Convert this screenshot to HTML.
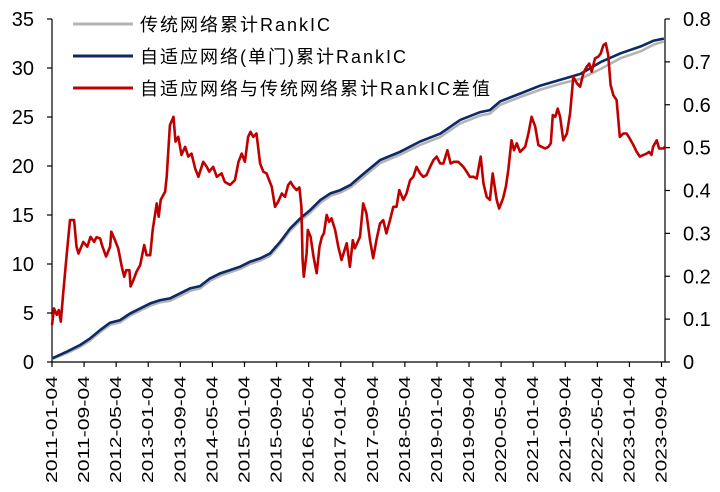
<!DOCTYPE html>
<html><head><meta charset="utf-8"><style>
body{margin:0;background:#fff}
svg{display:block;font-family:"Liberation Sans","Noto Sans CJK SC",sans-serif}
</style></head><body>
<svg id="chart" width="720" height="492" viewBox="0 0 720 492"></svg>
<script>
const tickLabels=["2011-01-04","2011-09-04","2012-05-04","2013-01-04","2013-09-04","2014-05-04","2015-01-04","2015-09-04","2016-05-04","2017-01-04","2017-09-04","2018-05-04","2019-01-04","2019-09-04","2020-05-04","2021-01-04","2021-09-04","2022-05-04","2023-01-04","2023-09-04"];
const leftTicks=[0,5,10,15,20,25,30,35];
const rightTicks=[0,0.1,0.2,0.3,0.4,0.5,0.6,0.7,0.8];
const cumMonths=[0,3.7,7,9.5,12,14.5,17,19.5,22,24.5,27,29.4,31.9,34.4,36.9,39.4,41.9,44.4,46.9,49.4,51.9,54.4,56.9,59.4,61.9,64.4,66.9,69.4,71.9,74.4,76.8,81.8,86.8,91.8,96.8,101.8,106.8,109.2,111.8,116.8,121.8,126.8,131.8,136.8,141.8,146.8,150.1,152.6];
const adaptiveCum=[0.37,1.05,1.73,2.41,3.26,4.01,4.28,4.96,5.47,5.98,6.32,6.49,7.0,7.51,7.75,8.53,9.04,9.38,9.72,10.23,10.57,11.08,12.27,13.63,14.65,15.5,16.52,17.2,17.54,18.05,18.9,20.6,21.45,22.5,23.3,24.7,25.5,25.7,26.6,27.4,28.2,28.8,29.4,30.6,31.5,32.2,32.8,33.0];
const traditionalCum=[0.3,0.9,1.55,2.2,3.05,3.8,4.05,4.75,5.25,5.75,6.1,6.25,6.75,7.25,7.5,8.3,8.8,9.15,9.5,10.0,10.35,10.85,12.05,13.4,14.4,15.25,16.25,16.95,17.3,17.8,18.6,20.3,21.15,22.15,22.95,24.35,25.15,25.35,26.25,27.05,27.8,28.4,28.9,29.9,31.0,31.7,32.4,32.7];
const diffMonths=[0,0.5,1.2,1.7,2.2,2.8,3.7,4.5,5.5,6.1,6.6,7.8,8.8,9.6,10.5,11.1,12,12.6,13.5,14.5,14.8,15.7,16.5,17.4,18,18.5,19.3,19.6,20.3,21.1,22,23,23.6,24.5,25.1,26.1,26.6,27.1,28.2,28.6,29.4,30.3,30.8,31.5,32.3,33.2,34,34.8,35.7,36.5,37.7,38.6,39.2,40.2,41.1,42.3,43.1,44.4,45.6,46.5,47.3,48.1,48.9,49.5,50.2,51,51.9,52.7,53.5,54.8,55.6,56.4,57.3,58.1,58.9,59.5,60.2,61,61.7,62.2,62.5,62.8,63.5,63.8,64.5,65.2,66,66.7,67.3,67.8,68.5,69.1,69.7,70.6,71.4,72.2,73.5,74.3,75,75.5,76.8,77.6,78.4,79.3,80.1,80.9,81.8,82.6,83.4,84.3,85.1,85.9,86.6,87.6,88.4,89.3,90.1,90.9,91.8,92.6,93.4,94.3,95.1,95.9,96.8,97.6,98.6,99.4,100.2,101.3,102.6,103.4,104.2,105.1,105.9,106.9,107.6,108.4,109.2,109.9,110.9,111.5,112.5,113.2,113.8,114.6,115.2,115.9,116.7,118,118.8,119.6,120.5,121.3,122.1,123,123.8,124.4,124.9,125.5,126.1,126.7,127.5,128.4,129.2,130,130.9,131.7,132.5,133.3,134,134.6,135.4,136.2,136.8,137.5,138.1,138.7,139.3,140,140.8,141.6,142.5,143.3,144.1,145,145.8,146.6,147.5,148.3,148.9,149.5,149.9,150.8,151.4,152.4,152.9];
const diffValues=[0.086,0.125,0.110,0.121,0.094,0.160,0.253,0.331,0.331,0.269,0.253,0.280,0.269,0.292,0.280,0.291,0.288,0.269,0.246,0.269,0.304,0.284,0.265,0.222,0.199,0.214,0.214,0.176,0.191,0.211,0.226,0.273,0.249,0.249,0.308,0.370,0.339,0.378,0.397,0.432,0.552,0.572,0.514,0.525,0.483,0.502,0.479,0.486,0.451,0.432,0.467,0.455,0.444,0.455,0.432,0.440,0.420,0.413,0.424,0.467,0.486,0.467,0.525,0.537,0.525,0.533,0.463,0.444,0.440,0.409,0.362,0.374,0.393,0.385,0.413,0.420,0.409,0.401,0.407,0.362,0.238,0.199,0.253,0.308,0.292,0.246,0.207,0.269,0.292,0.300,0.343,0.327,0.335,0.308,0.269,0.238,0.277,0.222,0.284,0.265,0.292,0.370,0.347,0.284,0.242,0.284,0.323,0.331,0.300,0.331,0.362,0.362,0.401,0.378,0.393,0.424,0.432,0.455,0.440,0.432,0.436,0.455,0.471,0.479,0.463,0.463,0.494,0.463,0.467,0.467,0.455,0.444,0.432,0.432,0.428,0.479,0.416,0.385,0.378,0.440,0.378,0.358,0.382,0.409,0.448,0.517,0.494,0.510,0.490,0.502,0.533,0.572,0.549,0.506,0.502,0.498,0.502,0.510,0.576,0.572,0.591,0.572,0.517,0.533,0.580,0.665,0.650,0.642,0.673,0.688,0.696,0.677,0.708,0.712,0.719,0.739,0.743,0.716,0.646,0.622,0.611,0.525,0.533,0.533,0.521,0.506,0.490,0.479,0.483,0.486,0.490,0.483,0.502,0.517,0.498,0.498,0.502];

const svg=document.getElementById('chart');
const NS='http://www.w3.org/2000/svg';
const X0=52,X1=665,YT=19,YB=362,PX_PER_MONTH=4.01;
const xs=m=>X0+m*PX_PER_MONTH;
const yl=v=>YB-(v/35)*(YB-YT);
const yr=v=>YB-(v/0.8)*(YB-YT);
function mk(tag,attrs,parent){const e=document.createElementNS(NS,tag);for(const k in attrs)e.setAttribute(k,attrs[k]);(parent||svg).appendChild(e);return e;}

let a=mk('path',{d:`M${X0},${YT}V${YB}H${X1}V${YT}`,fill:'none',stroke:'#000','stroke-width':1.2});


leftTicks.forEach(v=>{
  const y=yl(v);
  const t=mk('line',{x1:X0-5,x2:X0,y1:y,y2:y,stroke:'#000','stroke-width':1.2});
  
  
  const l=mk('text',{x:34,y:y+7,'text-anchor':'end','font-size':20});
  l.textContent=v;
  
  
});
rightTicks.forEach(v=>{
  const y=yr(v);
  const t=mk('line',{x1:X1,x2:X1+5,y1:y,y2:y,stroke:'#000','stroke-width':1.2});
  
  
  const l=mk('text',{x:683,y:y+7,'font-size':20});
  l.textContent=(v===0?'0':v.toFixed(1));
  
  
});
tickLabels.forEach((s,i)=>{
  const x=xs(i*8);
  const t=mk('line',{x1:x,x2:x,y1:YB,y2:YB+5,stroke:'#000','stroke-width':1.2});
  
  
  const l=mk('text',{x:0,y:0,'text-anchor':'start','font-size':16,textLength:107,lengthAdjust:'spacingAndGlyphs',transform:`translate(${x+5},${483}) rotate(-90)`});
  l.textContent=s;
  
  
});
function line(ms,vs,yf,color,name){
  const d=ms.map((m,i)=>(i?'L':'M')+xs(m).toFixed(1)+','+yf(vs[i]).toFixed(1)).join('');
  const p=mk('path',{d,fill:'none',stroke:color,'stroke-width':2.6,'stroke-linejoin':'round'});
  
  
}
line(cumMonths,traditionalCum,yl,'#b4b4b4','traditional-cum-line');
line(cumMonths,adaptiveCum,yl,'#0c2a66','adaptive-cum-line');
line(diffMonths,diffValues,yr,'#c00000','diff-line');

const legend=[['传统网络累计RankIC','#b4b4b4',24],['自适应网络(单门)累计RankIC','#0c2a66',56],['自适应网络与传统网络累计RankIC差值','#c00000',88]];
legend.forEach(([t,c,y])=>{
  const g=mk('g',{});
  
  
  mk('line',{x1:73,x2:133,y1:y,y2:y,stroke:c,'stroke-width':3},g);
  const tx=mk('text',{x:140,y:y+7,'font-size':18,'letter-spacing':'2'},g);
  tx.textContent=t;
});
</script>
</body></html>
